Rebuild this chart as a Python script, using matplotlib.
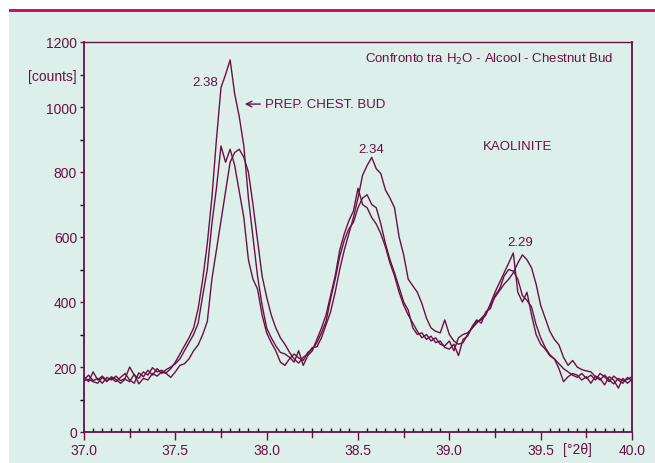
import numpy as np
import matplotlib.pyplot as plt
from matplotlib.patches import Rectangle
from matplotlib.ticker import MultipleLocator

plt.rcParams['font.family'] = ['Liberation Sans', 'DejaVu Sans']

# 2theta from 37.0 to 40.0, step 0.025
theta = np.round(np.arange(37.0, 40.0001, 0.025), 3)

# PREP. CHEST. BUD
prep_chest_bud = [160, 175, 158, 165, 150, 168, 160, 172, 158, 165,
                  200, 175, 165, 185, 175, 198, 185, 190, 182, 195,
                  215, 240, 265, 290, 320, 380, 470, 580, 720, 900,
                  1060, 1100, 1145, 1040, 970, 880, 720, 600, 480, 390,
                  320, 290, 265, 245, 240, 230, 215, 250, 205, 235,
                  250, 285, 320, 360, 420, 480, 560, 610, 650, 680,
                  750, 700, 690, 660, 640, 610, 570, 520, 480, 430,
                  390, 360, 335, 310, 290, 300, 280, 290, 270, 265,
                  280, 250, 290, 300, 305, 320, 340, 345, 360, 395,
                  430, 460, 490, 520, 551, 430, 400, 430, 360, 300,
                  270, 255, 235, 225, 195, 155, 170, 180, 175, 160,
                  170, 150, 172, 165, 145, 170, 160, 135, 165, 150,
                  162]

# H2O
h2o = [170, 155, 185, 160, 172, 158, 165, 155, 168, 180,
       160, 150, 182, 170, 190, 175, 195, 180, 192, 200,
       210, 225, 250, 275, 300, 335, 420, 500, 640, 750,
       880, 830, 870, 820, 740, 660, 530, 470, 440, 360,
       305, 275, 250, 215, 205, 225, 240, 228, 220, 245,
       255, 275, 305, 340, 410, 470, 540, 590, 625, 645,
       690, 720, 730, 700, 690, 640, 580, 530, 490, 445,
       400, 375, 320, 300, 305, 285, 295, 275, 280, 260,
       255, 270, 235, 285, 295, 325, 345, 335, 370, 380,
       420, 440, 480, 500, 495, 470, 420, 405, 385, 330,
       290, 260, 238, 225, 210, 195, 185, 175, 168, 180,
       165, 175, 160, 180, 170, 155, 172, 160, 150, 168,
       158]

# Alcool
alcool = [158, 162, 155, 150, 168, 155, 170, 162, 150, 162,
          155, 178, 148, 165, 160, 180, 172, 185, 180, 168,
          185, 205, 210, 225, 250, 268, 300, 340, 470, 560,
          650, 740, 830, 860, 870, 845, 800, 700, 590, 480,
          415, 360, 320, 290, 270, 245, 225, 212, 230, 240,
          260, 262, 290, 330, 370, 430, 500, 560, 610, 660,
          720, 790, 820, 845, 810, 795, 745, 720, 690, 600,
          545, 470, 450, 430, 395, 350, 320, 310, 305, 345,
          300, 280, 270, 275, 300, 320, 335, 350, 365, 390,
          415, 435, 455, 470, 490, 520, 545, 530, 505, 455,
          390, 350, 310, 285, 268, 230, 205, 220, 200, 192,
          188, 185, 170, 160, 175, 160, 148, 165, 158, 162,
          170]

ytick_vals = [0, 200, 400, 600, 800, 1000, 1100, 1200]
ytick_labels = ['0', '200', '400', '600', '800', '1000', '[counts]', '1200']
xtick_vals = [37.0, 37.5, 38.0, 38.5, 39.0, 39.5, 40.0]

dark = '#6b1043'
bg = '#dcefea'
fs = 9.5

fig = plt.figure(figsize=(6.55, 4.64), dpi=100)
fig.patch.set_facecolor('white')
fig.patches.append(Rectangle((9/655, 0), 1, (464-11)/464, transform=fig.transFigure,
                             facecolor=bg, edgecolor='none', zorder=-2))
fig.patches.append(Rectangle((9/655, (464-12.5)/464), 1, 2.5/464, transform=fig.transFigure,
                             facecolor='#c4136c', edgecolor='none', zorder=-1))

ax = fig.add_axes([84/655, 31/464, 548/655, 390/464])
ax.set_zorder(2)
ax.set_facecolor(bg)

for y in [prep_chest_bud, h2o, alcool]:
    ax.plot(theta, y, color=dark, lw=1.0)

ax.set_xlim(37.0, 40.0)
ax.set_ylim(0, 1200)

ax.set_yticks(ytick_vals)
ax.set_yticklabels(ytick_labels)
ax.yaxis.set_minor_locator(MultipleLocator(100))
ax.set_xticks(xtick_vals)
ax.set_xticklabels(['%.1f' % v for v in xtick_vals])
ax.xaxis.set_minor_locator(MultipleLocator(0.05))

ax.tick_params(axis='both', colors=dark, labelsize=10, width=1.0)
ax.tick_params(axis='y', which='major', direction='out', length=3, pad=2)
ax.tick_params(axis='y', which='minor', direction='out', length=3, width=1.0)
ax.tick_params(axis='x', which='major', direction='out', length=6, pad=2)
ax.tick_params(axis='x', which='minor', direction='in', length=3, width=1.0)
# quarter ticks pointing down
for xq in [37.25, 37.75, 38.25, 38.75, 39.25, 39.75]:
    ax.plot([xq, xq], [0, -0.012], transform=ax.get_xaxis_transform(), color=dark,
            lw=1.0, clip_on=False)

for s in ax.spines.values():
    s.set_color(dark)
    s.set_linewidth(1.3)
ax.spines['top'].set_linewidth(1.0)

ax.text(39.70, -0.025, '[°2θ]', transform=ax.get_xaxis_transform(), ha='center', va='top',
        fontsize=10, color=dark)

ax.text(37.735, 1077, '2.38', ha='right', va='center', fontsize=fs, color=dark)
ax.annotate('', xy=(37.865, 1009), xytext=(37.98, 1009),
            arrowprops=dict(arrowstyle='->', color=dark, lw=1.0))
ax.text(37.99, 1009, 'PREP. CHEST. BUD', ha='left', va='center', fontsize=fs, color=dark)
ax.text(38.571, 872, '2.34', ha='center', va='center', fontsize=fs, color=dark)
ax.text(39.376, 880, 'KAOLINITE', ha='center', va='center', fontsize=fs, color=dark)
ax.text(39.387, 585, '2.29', ha='center', va='center', fontsize=fs, color=dark)
ax.text(39.896, 1148, 'Confronto tra H$_2$O - Alcool - Chestnut Bud', ha='right', va='center',
        fontsize=fs, color=dark)

plt.savefig('out.png', dpi=100, facecolor=fig.get_facecolor())
